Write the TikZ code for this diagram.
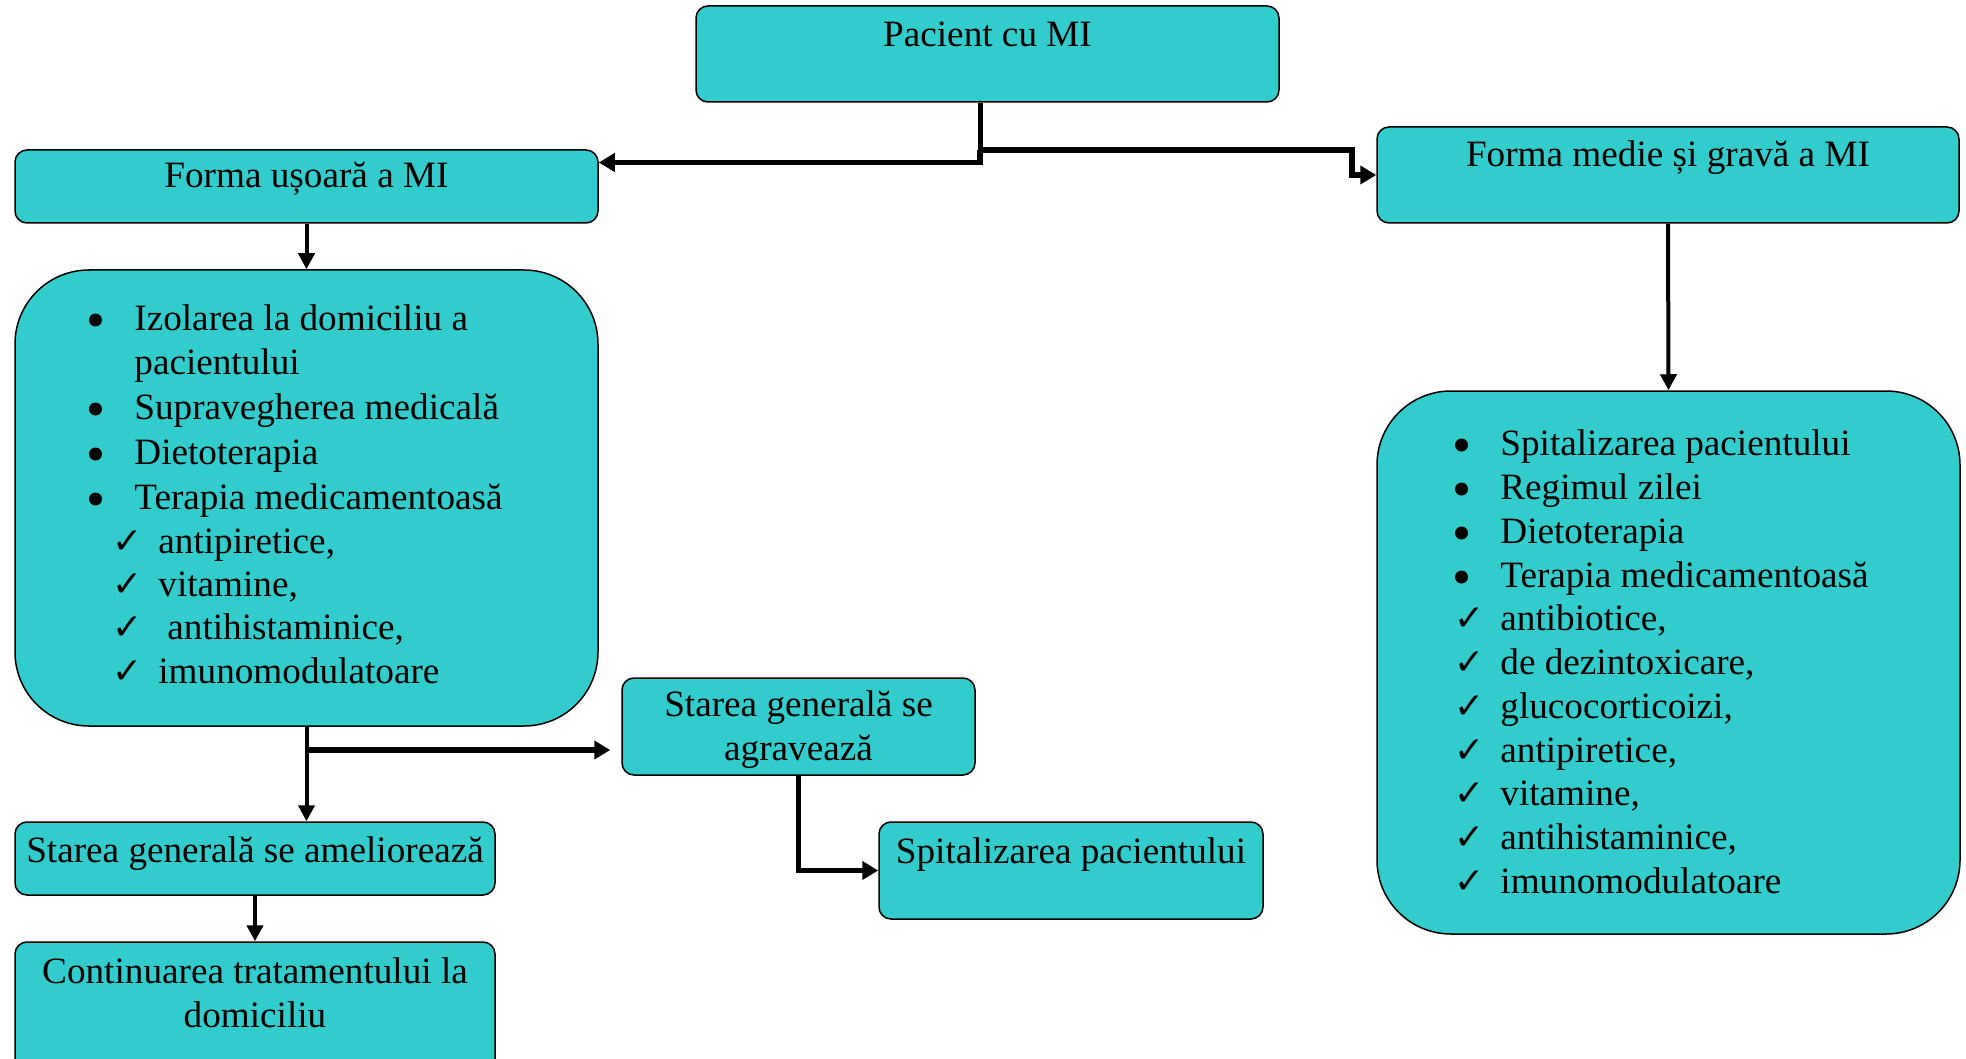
\documentclass[tikz,border=0pt]{standalone}
\usepackage{fontspec}
\setmainfont{Liberation Serif}
\newfontfamily\symfont{DejaVu Sans}
\usetikzlibrary{arrows.meta}
\definecolor{boxc}{RGB}{51,204,204}
\newcommand{\fs}{\fontsize{18.6}{22}\selectfont}
\newcommand{\chk}{{\symfont\fontsize{18}{20}\selectfont ✓}}
\begin{document}
\begin{tikzpicture}[x=0.5pt,y=-0.5pt,
  box/.style={draw=black, line width=0.75pt, fill=boxc, rounded corners=6pt, inner sep=0pt},
  bigbox/.style={box, rounded corners=37pt},
  txt/.style={font=\fs, inner sep=0pt, anchor=base west, text height=13pt, text depth=4pt},
  ctxt/.style={font=\fs, inner sep=0pt, anchor=base, text height=13pt, text depth=4pt},
  dotb/.style={fill=black},
  conn/.style={line width=2pt, -{Triangle[length=8pt,width=8pt]}},
  thk/.style={line width=2.8pt, -{Triangle[length=8pt,width=9pt]}}]
\clip (0,0) rectangle (1966,1059);
\fill[white] (0,0) rectangle (1966,1059);
% boxes
\node[box, minimum width=291.5pt, minimum height=48pt] (P) at (987.5,54) {};
\node[box, minimum width=291.5pt, minimum height=36.5pt] (U) at (306.5,186.5) {};
\node[box, minimum width=291pt, minimum height=48pt] (G) at (1668,175) {};
\node[bigbox, minimum width=291.5pt, minimum height=228pt] (LB) at (306.5,498) {};
\node[bigbox, minimum width=291.5pt, minimum height=271.5pt] (RB) at (1668.5,662.5) {};
\node[box, minimum width=176.5pt, minimum height=48.5pt] (AG) at (798.5,726.5) {};
\node[box, minimum width=192pt, minimum height=48.5pt] (SP) at (1071,870.5) {};
\node[box, minimum width=240pt, minimum height=36.5pt] (AM) at (255,858.5) {};
\node[box, minimum width=240pt, minimum height=69pt] (CT) at (255,1011) {};
% box texts
\node[ctxt] (tP) at (987.5,47) {Pacient cu MI};
\node[ctxt] (tU) at (306.5,188) {Forma ușoară a MI};
\node[ctxt] (tG) at (1668,167) {Forma medie și gravă a MI};
\node[ctxt] (tAG1) at (798.5,716) {Starea generală se};
\node[ctxt] (tAG2) at (798.5,760) {agravează};
\node[ctxt] (tSP) at (1071,863) {Spitalizarea pacientului};
\node[ctxt] (tAM) at (255,862) {Starea generală se ameliorează};
\node[ctxt] (tCT1) at (255,983) {Continuarea tratamentului la};
\node[ctxt] (tCT2) at (255,1027) {domiciliu};
% left list
\foreach \yy in {330,419,464,509} \fill[dotb] (95.5,\yy-10) circle[radius=3.25pt];
\node[txt] (l1) at (134,330) {Izolarea la domiciliu a};
\node[txt] (l2) at (134,374) {pacientului};
\node[txt] (l3) at (134,419) {Supravegherea medicală};
\node[txt] (l4) at (134,464) {Dietoterapia};
\node[txt] (l5) at (134,509) {Terapia medicamentoasă};
\node[txt] (l6) at (112,553) {\makebox[23pt][l]{\chk}antipiretice,};
\node[txt] (l7) at (112,596) {\makebox[23pt][l]{\chk}vitamine,};
\node[txt] (l8) at (112,639) {\makebox[23pt][l]{\chk}\hspace{4.5pt}antihistaminice,};
\node[txt] (l9) at (112,683) {\makebox[23pt][l]{\chk}imunomodulatoare};
% right list
\foreach \yy in {455,499,543,587} \fill[dotb] (1461.5,\yy-10) circle[radius=3.25pt];
\node[txt] (r1) at (1500,455) {Spitalizarea pacientului};
\node[txt] (r2) at (1500,499) {Regimul zilei};
\node[txt] (r3) at (1500,543) {Dietoterapia};
\node[txt] (r4) at (1500,587) {Terapia medicamentoasă};
\node[txt] (r5) at (1454,630) {\makebox[23pt][l]{\chk}antibiotice,};
\node[txt] (r6) at (1454,674) {\makebox[23pt][l]{\chk}de dezintoxicare,};
\node[txt] (r7) at (1454,718) {\makebox[23pt][l]{\chk}glucocorticoizi,};
\node[txt] (r8) at (1454,762) {\makebox[23pt][l]{\chk}antipiretice,};
\node[txt] (r9) at (1454,805) {\makebox[23pt][l]{\chk}vitamine,};
\node[txt] (r10) at (1454,849) {\makebox[23pt][l]{\chk}antihistaminice,};
\node[txt] (r11) at (1454,893) {\makebox[23pt][l]{\chk}imunomodulatoare};
% connectors
\coordinate (jR) at (980,150);
\coordinate (kR) at (1352,150);
\coordinate (jB) at (307,750);
\draw[line width=2.2pt] ([xshift=-3.5pt]P.south) -- ([xshift=-3.5pt]P.south |- jR);
\draw[thk] (jR) |- ([yshift=12pt]U.east);
\draw[thk] (jR) -- (kR) |- (G.west);
\draw[conn] (G.south) -- (RB.north);
\draw[conn] (U.south) -- (LB.north);
\draw[conn] (LB.south) -- (LB.south |- AM.north);
\draw[thk, shorten >=5.5pt] (jB) -- (AG.west |- jB);
\draw[thk] (AG.south) |- (SP.west);
\draw[conn] (AM.south) -- (CT.north);
\end{tikzpicture}
\end{document}
